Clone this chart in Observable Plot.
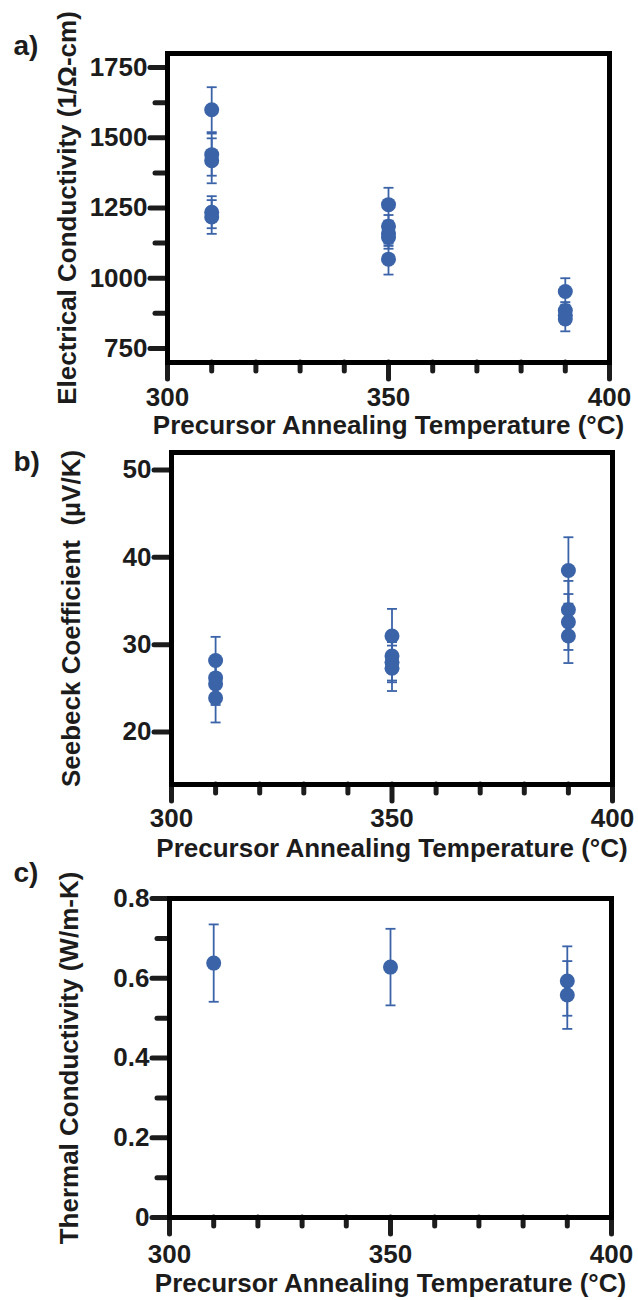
<!DOCTYPE html>
<html><head><meta charset="utf-8">
<script src="https://cdn.jsdelivr.net/npm/d3@7"></script>
<script src="https://cdn.jsdelivr.net/npm/@observablehq/plot@0.6"></script>
<style>
html,body{margin:0;padding:0;background:#fff;}
#chart{width:638px;}
#chart svg{display:block;}
#chart g[aria-label$="-axis tick"] path{stroke-width:5px;stroke-linecap:round;}
</style></head><body><div id="chart"></div>
<script>
// shared x axis
const xMajor = [300, 350, 400];
const xMinor = [310, 320, 330, 340, 360, 370, 380, 390];
const xTitle = "Precursor Annealing Temperature (°C)";

// a) electrical conductivity
const condTemp = [310, 310, 310, 310, 310, 350, 350, 350, 350, 350, 390, 390, 390, 390];
const condVal  = [1600, 1440, 1418, 1235, 1218, 1262, 1185, 1160, 1145, 1068, 953, 885, 868, 855];
const condErr  = [80, 75, 80, 57, 60, 60, 40, 45, 40, 55, 47, 30, 30, 44];
const condTicks = [750, 1000, 1250, 1500, 1750];
const condMinor = [875, 1125, 1375, 1625];

// b) Seebeck coefficient
const seebTemp = [310, 310, 310, 310, 350, 350, 350, 350, 390, 390, 390, 390];
const seebVal  = [28.2, 26.2, 25.5, 23.9, 31.0, 28.7, 28.0, 27.3, 38.5, 34.0, 32.6, 31.0];
const seebErr  = [2.7, 2.2, 2.4, 2.8, 3.1, 2.8, 2.3, 2.6, 3.8, 3.3, 3.2, 3.1];
const seebTicks = [20, 30, 40, 50];

// c) thermal conductivity
const thermTemp = [310, 350, 390, 390];
const thermVal  = [0.638, 0.628, 0.593, 0.558];
const thermErr  = [0.097, 0.096, 0.087, 0.085];
const thermTicks = [0, 0.2, 0.4, 0.6, 0.8];
const thermMinor = [0.1, 0.3, 0.5, 0.7];

const BLUE = "#3B63A8";
const INK = "#1c1c1c";
const FONT = "'Liberation Sans', Arial, Helvetica, sans-serif";
const FS = 26;

const capSymbol = {draw(ctx, size) { const w = Math.sqrt(size / Math.PI); ctx.moveTo(-w, 0); ctx.lineTo(w, 0); }};

function rows(t, v, e) { return t.map((x, i) => ({t: x, v: v[i], lo: v[i] - e[i], hi: v[i] + e[i]})); }

function panel(o) {
  const data = rows(o.temp, o.val, o.err);
  return Plot.plot({
    width: 638, height: o.height,
    marginTop: o.mt, marginBottom: o.mb, marginLeft: o.ml, marginRight: o.mr,
    style: {fontFamily: FONT, background: "#fff", color: INK, overflow: "visible"},
    x: {domain: [300, 400], axis: null},
    y: {domain: o.domain, axis: null},
    marks: [
      Plot.ruleX(data, {x: "t", y1: "lo", y2: "hi", stroke: BLUE, strokeWidth: 1.8}),
      Plot.dot(data, {x: "t", y: "lo", symbol: capSymbol, r: 5, stroke: BLUE, strokeWidth: 1.8}),
      Plot.dot(data, {x: "t", y: "hi", symbol: capSymbol, r: 5, stroke: BLUE, strokeWidth: 1.8}),
      Plot.dot(data, {x: "t", y: "v", r: 7.5, fill: BLUE}),
      Plot.axisX(xMinor, {tickSize: 9, strokeWidth: 5, strokeLinecap: "round", tickFormat: () => "", label: null, stroke: INK}),
      Plot.axisX(xMajor, {tickSize: 17, tickPadding: o.xpad, strokeWidth: 5, strokeLinecap: "round", fontSize: FS, fontWeight: "bold", label: null, stroke: INK, fill: INK}),
      ...(o.minor ? [Plot.axisY(o.minor, {tickSize: 12, strokeWidth: 5, strokeLinecap: "round", tickFormat: () => "", label: null, stroke: INK})] : []),
      Plot.axisY(o.ticks, {tickSize: 17, tickPadding: 3, strokeWidth: 5, strokeLinecap: "round", fontSize: FS, fontWeight: "bold", label: null, stroke: INK, fill: INK, tickFormat: o.fmt}),
      Plot.frame({stroke: "#000", strokeWidth: 5}),
      Plot.text([xTitle], {frameAnchor: "bottom", dy: o.tdy, fontSize: FS, fontWeight: "bold", fill: INK, lineAnchor: "middle"}),
      Plot.text([o.ytitle], {frameAnchor: "left", dx: -100, rotate: -90, fontSize: FS, fontWeight: "bold", fill: INK, lineAnchor: "middle", textAnchor: "middle"}),
      Plot.text([o.letter], {frameAnchor: "top-left", dx: o.ldx, dy: o.ldy, fontSize: 28, fontWeight: "bold", fill: INK, lineAnchor: "middle", textAnchor: "start"})
    ]
  });
}

const chart = document.getElementById("chart");
chart.append(panel({
  height: 440, mt: 53, mb: 78, ml: 167, mr: 29, xpad: 8, tdy: 63,
  domain: [700, 1800], ticks: condTicks, minor: condMinor, fmt: d3.format("d"),
  temp: condTemp, val: condVal, err: condErr,
  ytitle: "Electrical Conductivity (1/Ω-cm)", letter: "a)", ldx: -154, ldy: -7
}));
chart.append(panel({
  height: 425, mt: 12, mb: 81, ml: 171, mr: 26, xpad: 7, tdy: 64,
  domain: [14, 52], ticks: seebTicks, minor: null, fmt: d3.format("d"),
  temp: seebTemp, val: seebVal, err: seebErr,
  ytitle: "Seebeck Coefficient  (µV/K)", letter: "b)", ldx: -158, ldy: 10
}));
chart.append(panel({
  height: 435, mt: 33, mb: 83, ml: 169, mr: 27, xpad: 10, tdy: 66,
  domain: [0, 0.8], ticks: thermTicks, minor: thermMinor, fmt: d => d === 0 ? "0" : d3.format(".1f")(d),
  temp: thermTemp, val: thermVal, err: thermErr,
  ytitle: "Thermal Conductivity (W/m-K)", letter: "c)", ldx: -156, ldy: -25
}));
</script></body></html>
